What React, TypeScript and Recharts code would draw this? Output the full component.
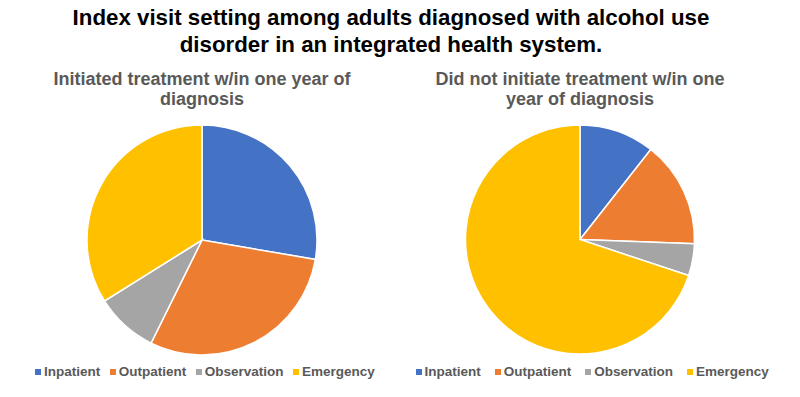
import { PieChart, Pie, Cell, Legend } from 'recharts';

const categories = ['Inpatient', 'Outpatient', 'Observation', 'Emergency'];
const initiatedValues = [27.7, 29.6, 8.8, 33.9];
const notInitiatedValues = [10.6, 15.0, 4.5, 69.9];
const colors = ['#4472C4', '#ED7D31', '#A5A5A5', '#FFC000'];

const initiatedData = categories.map((name, i) => ({ name, value: initiatedValues[i] }));
const notInitiatedData = categories.map((name, i) => ({ name, value: notInitiatedValues[i] }));

const font = '"Liberation Sans", Arial, sans-serif';

function makeLegend(gap: number) {
  return () => (
    <div style={{ display: 'flex', alignItems: 'center', fontFamily: font, fontSize: 13.5, fontWeight: 'bold', color: '#595959', lineHeight: '14px', whiteSpace: 'nowrap' }}>
      {categories.map((name, i) => (
        <div key={name} style={{ display: 'flex', alignItems: 'center', marginRight: gap }}>
          <span style={{ display: 'inline-block', width: 6, height: 6, background: colors[i], marginRight: 3 }} />
          <span>{name}</span>
        </div>
      ))}
    </div>
  );
}

function SettingPie({ data, cx, cy, r, legendLeft, gap }: { data: { name: string; value: number }[]; cx: number; cy: number; r: number; legendLeft: number; gap: number }) {
  return (
    <PieChart width={400} height={397} margin={{ top: 0, right: 0, bottom: 0, left: 0 }}>
      <Pie
        data={data}
        dataKey="value"
        nameKey="name"
        cx={cx}
        cy={cy}
        outerRadius={r}
        startAngle={90}
        endAngle={-270}
        stroke="#ffffff"
        strokeWidth={1.5}
        isAnimationActive={false}
      >
        {data.map((d, i) => (
          <Cell key={d.name} fill={colors[i]} />
        ))}
      </Pie>
      <Legend content={makeLegend(gap)} wrapperStyle={{ position: 'absolute', top: 365, left: legendLeft, width: 'auto', bottom: 'auto' }} />
    </PieChart>
  );
}

export default function App() {
  return (
    <div style={{ position: 'fixed', top: 0, left: 0, width: 800, height: 397, background: '#ffffff', fontFamily: font, overflow: 'hidden' }}>
      <div style={{ position: 'absolute', top: 4, left: 0, width: 782, textAlign: 'center', fontSize: 22.3, fontWeight: 'bold', lineHeight: '27px', color: '#000000' }}>
        Index visit setting among adults diagnosed with alcohol use
        <br />
        disorder in an integrated health system.
      </div>
      <div style={{ position: 'absolute', top: 69, left: 2, width: 400, textAlign: 'center', fontSize: 18, fontWeight: 'bold', lineHeight: '20px', color: '#595959' }}>
        Initiated treatment w/in one year of
        <br />
        diagnosis
      </div>
      <div style={{ position: 'absolute', top: 69, left: 380, width: 400, textAlign: 'center', fontSize: 18, fontWeight: 'bold', lineHeight: '20px', color: '#595959' }}>
        Did not initiate treatment w/in one
        <br />
        year of diagnosis
      </div>
      <div style={{ position: 'absolute', top: 0, left: 0 }}>
        <SettingPie data={initiatedData} cx={202} cy={240} r={115} legendLeft={35} gap={9.5} />
      </div>
      <div style={{ position: 'absolute', top: 0, left: 400 }}>
        <SettingPie data={notInitiatedData} cx={180} cy={239.5} r={114.5} legendLeft={15.5} gap={14} />
      </div>
    </div>
  );
}
